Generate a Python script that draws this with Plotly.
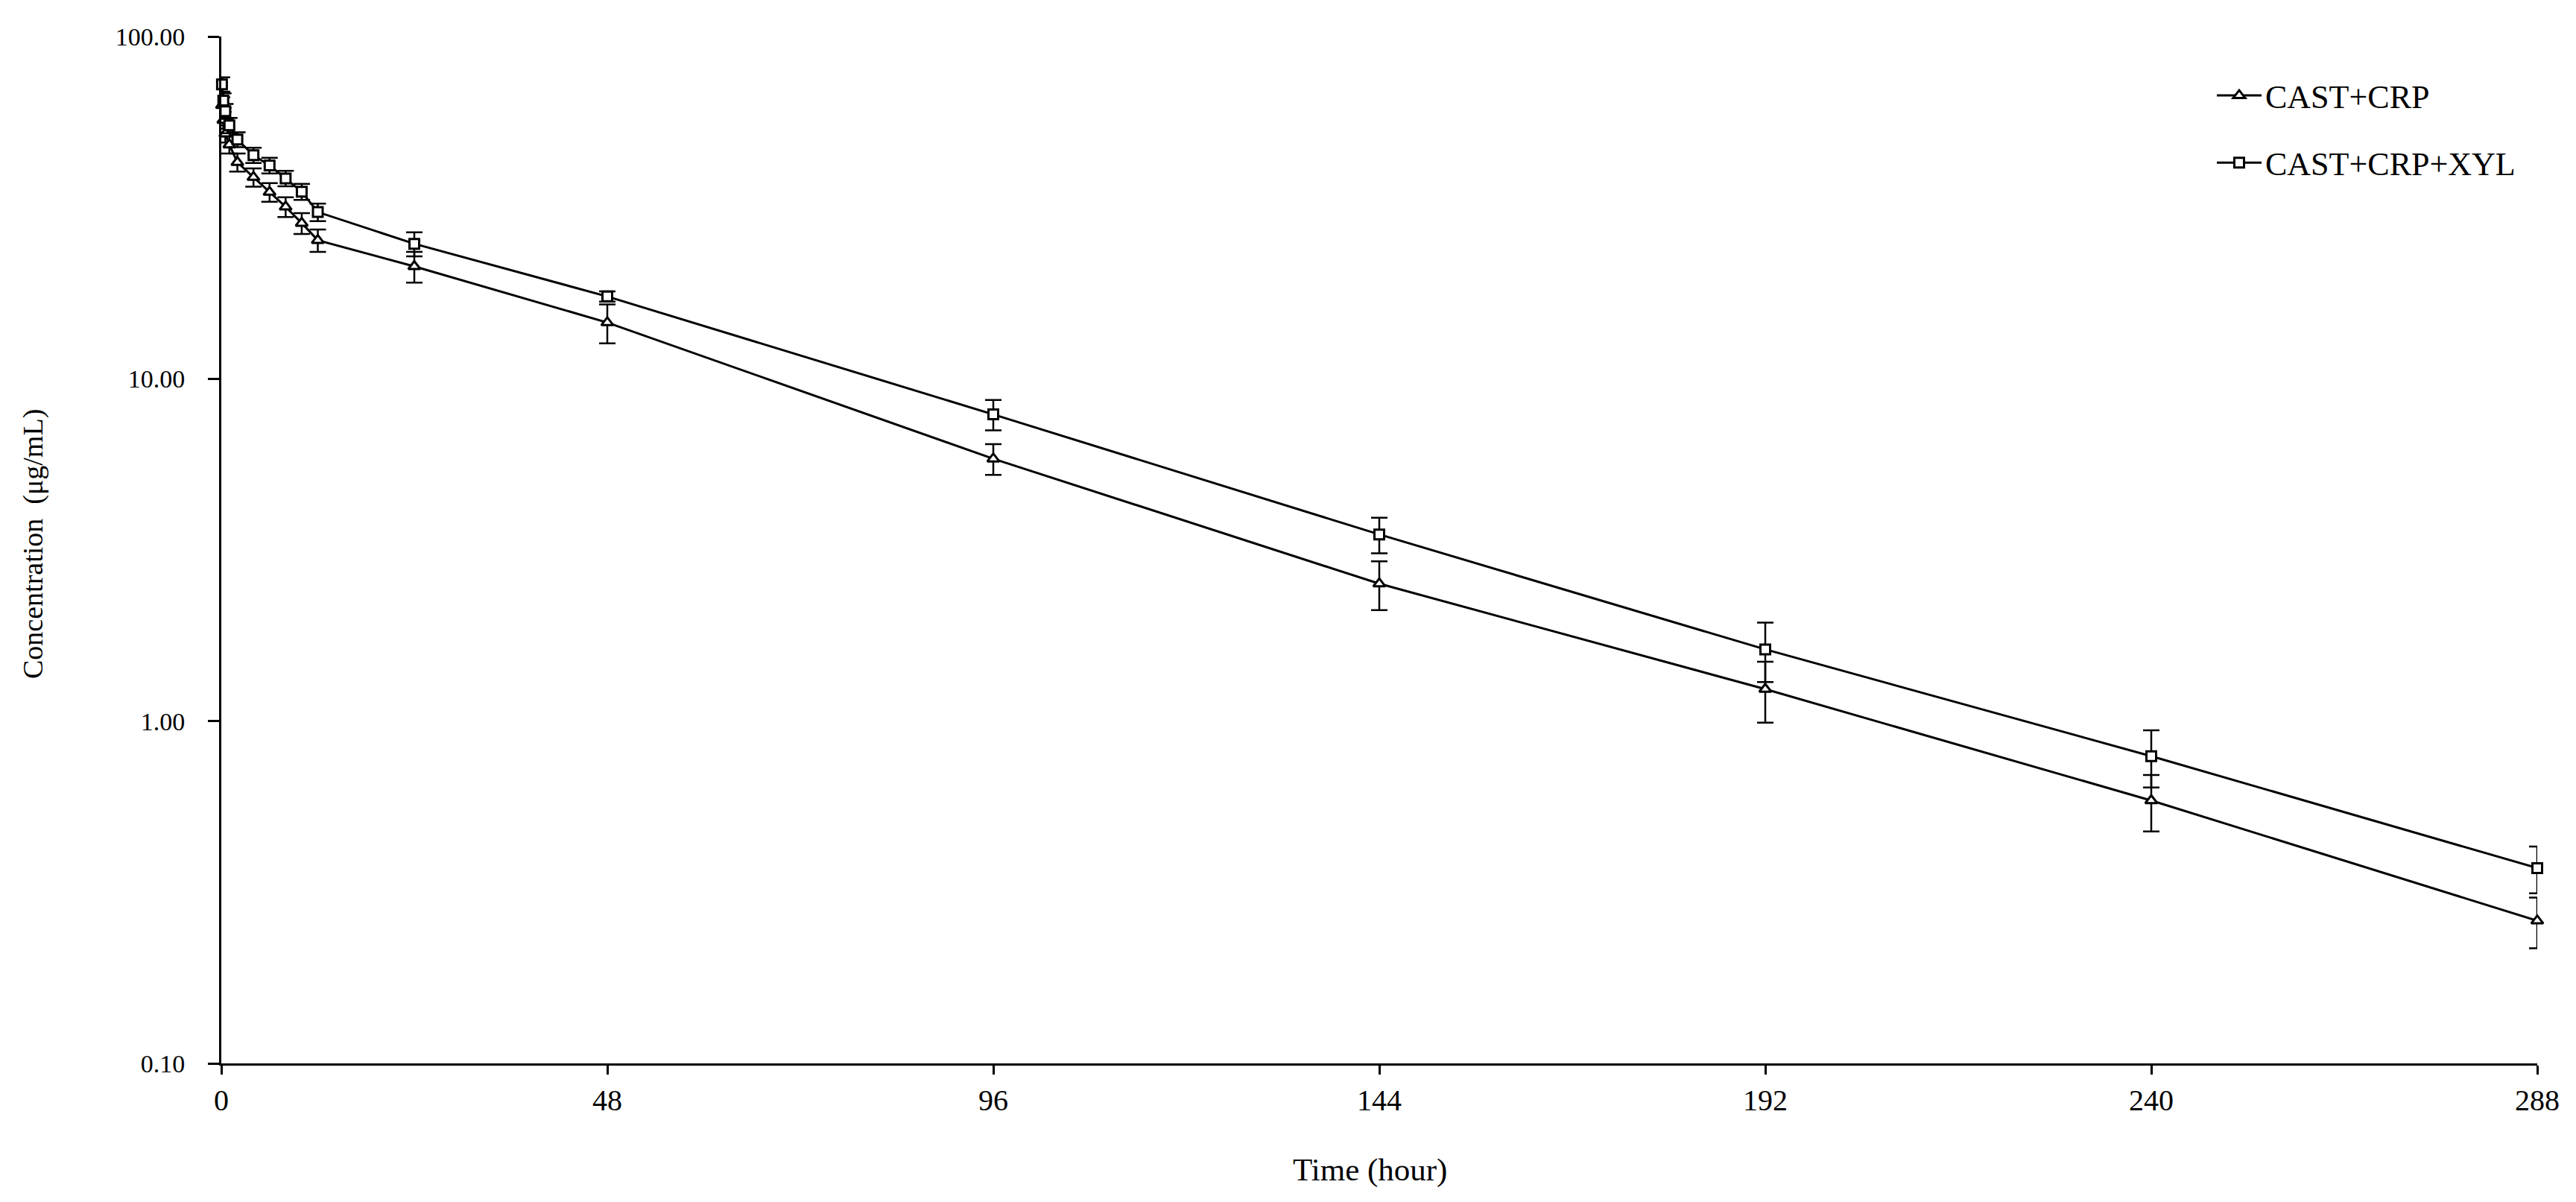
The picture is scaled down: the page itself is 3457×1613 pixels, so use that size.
import plotly.graph_objects as go

# ---- data ----
time_h = [0.083, 0.25, 0.5, 1, 2, 4, 6, 8, 10, 12, 24, 48, 96, 144, 192, 240, 288]

crp_name = "CAST+CRP"
crp_mean = [63, 57, 52, 48.3, 42.9, 38.8, 35.1, 31.8, 28.5, 25.4, 21.3, 14.6, 5.84, 2.52, 1.24, 0.586, 0.261]
crp_sd = [3.5, 3.2, 3.0, 2.8, 2.6, 2.4, 2.2, 2.1, 2.0, 1.9, 2.2, 1.9, 0.6, 0.41, 0.25, 0.11, 0.044]

xyl_name = "CAST+CRP+XYL"
xyl_mean = [72.5, 65, 60.5, 55, 50, 45, 42, 38.5, 35.2, 30.7, 24.8, 17.4, 7.87, 3.51, 1.62, 0.79, 0.372]
xyl_sd = [3.5, 3.2, 3.0, 2.8, 2.5, 2.3, 2.2, 2.0, 1.9, 1.8, 2.0, 0.6, 0.8, 0.42, 0.32, 0.15, 0.058]

x_ticks = [0, 48, 96, 144, 192, 240, 288]
y_tickvals = [0.1, 1, 10, 100]
y_ticktext = ["0.10", "1.00", "10.00", "100.00"]

x_title = "Time (hour)"
y_title = "Concentration  (μg/mL)"

FONT = "Liberation Serif, Times New Roman, serif"

fig = go.Figure()

fig.add_trace(go.Scatter(
    x=time_h, y=crp_mean, name=crp_name, mode="lines+markers",
    legendgroup="a",
    line=dict(color="black", width=3),
    marker=dict(symbol="triangle-up", size=14, color="white",
                line=dict(color="black", width=3)),
    error_y=dict(type="data", array=crp_sd, visible=True,
                 color="black", thickness=2.5, width=11),
    cliponaxis=False,
))
fig.add_trace(go.Scatter(
    x=time_h, y=xyl_mean, name=xyl_name, mode="lines+markers",
    legendgroup="b",
    line=dict(color="black", width=3),
    marker=dict(symbol="square", size=13, color="white",
                line=dict(color="black", width=3)),
    error_y=dict(type="data", array=xyl_sd, visible=True,
                 color="black", thickness=2.5, width=11),
    cliponaxis=False,
))

L, R, T, B = 289, 60, 41, 194
W, H = 3457, 1613
pw = W - L - R
ph = H - T - B

fig.update_layout(
    width=W, height=H,
    margin=dict(l=L, r=R, t=T, b=B, pad=0),
    paper_bgcolor="white", plot_bgcolor="white",
    font=dict(family=FONT, color="black"),
    showlegend=True,
    legend=dict(
        x=(2962 - L) / pw, y=(H - B - 85) / ph,
        xanchor="left", yanchor="top",
        font=dict(family=FONT, size=44, color="black"),
        bgcolor="rgba(0,0,0,0)",
        traceorder="grouped", tracegroupgap=30,
        itemwidth=60,
    ),
    xaxis=dict(
        range=[0, 288], tickvals=x_ticks,
        ticktext=[str(v) for v in x_ticks],
        showgrid=False, zeroline=False,
        showline=True, linecolor="black", linewidth=3,
        ticks="outside", ticklen=12, tickwidth=2.5, tickcolor="black",
        tickfont=dict(family=FONT, size=40, color="black"),
        ticklabelstandoff=0,
    ),
    yaxis=dict(
        type="log", range=[-1, 2],
        tickvals=y_tickvals, ticktext=y_ticktext,
        showgrid=False, zeroline=False,
        showline=True, linecolor="black", linewidth=3,
        ticks="outside", ticklen=15, tickwidth=2.5, tickcolor="black",
        tickfont=dict(family=FONT, size=34, color="black"),
        ticklabelstandoff=24,
    ),
    annotations=[
        dict(text=x_title, xref="paper", yref="paper",
             x=(1830 - L) / pw, y=-(1562 - (H - B)) / ph,
             xanchor="center", yanchor="middle", showarrow=False,
             font=dict(family=FONT, size=43, color="black")),
        dict(text=y_title, xref="paper", yref="paper",
             x=(36 - L) / pw, y=(H - B - 722) / ph,
             xanchor="center", yanchor="middle", showarrow=False,
             textangle=-90,
             font=dict(family=FONT, size=38, color="black")),
    ],
)

fig.write_html("out.html")
